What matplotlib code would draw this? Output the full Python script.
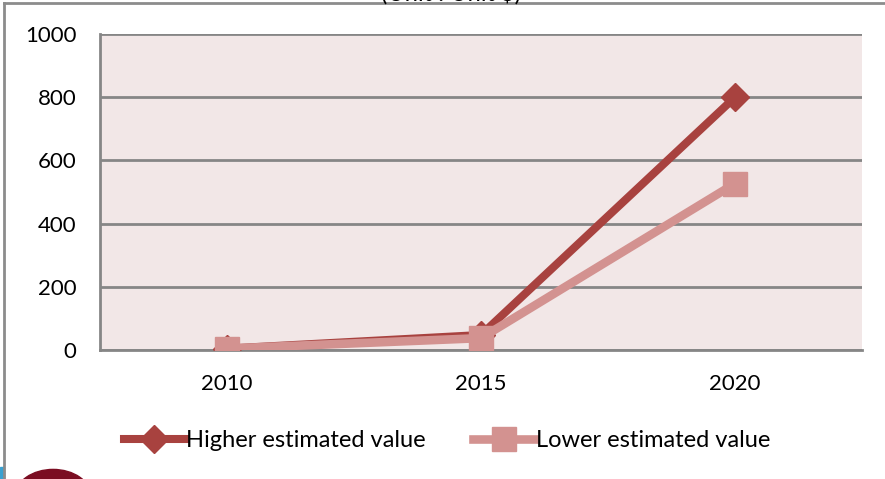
import matplotlib.pyplot as plt
from matplotlib.patches import Ellipse, Rectangle

years = ['2010', '2015', '2020']
higher = [5, 48, 800]
lower = [5, 38, 527]

high_col = '#a8423f'
low_col = '#d39290'

plt.rcParams['font.family'] = ['Lato', 'DejaVu Sans']

fig = plt.figure(figsize=(8.85, 4.79), dpi=100)
ax = fig.add_axes([0.113, 0.269, 0.861, 0.660])
ax.set_facecolor('#f2e7e7')

x = range(len(years))
ax.plot(x, higher, color=high_col, lw=5.8, marker='D', ms=14,
        label='Higher estimated value', zorder=3)
ax.plot(x, lower, color=low_col, lw=6.2, marker='s', ms=17,
        label='Lower estimated value', zorder=4)

ax.set_xlim(-0.5, 2.5)
ax.set_ylim(0, 1000)
ax.set_yticks(range(0, 1001, 200))
ax.set_xticks(list(x))
ax.set_xticklabels(years)
ax.yaxis.grid(True, color='#868686', lw=2)
ax.set_axisbelow(True)
ax.tick_params(length=0, labelsize=16, colors='black')
ax.tick_params(axis='y', pad=17)
ax.tick_params(axis='x', pad=17)
for s in ['top', 'right']:
    ax.spines[s].set_visible(False)
for s in ['left', 'bottom']:
    ax.spines[s].set_color('#868686')
    ax.spines[s].set_linewidth(2)

leg = fig.legend(loc='center', bbox_to_anchor=(0.505, 0.08), ncol=2,
                 frameon=False, fontsize=17, handlelength=2.6,
                 handletextpad=0.05, columnspacing=2.0)

# title of the chart, mostly cut off at the top edge
fig.text(0.51, 1 - 1 / 479, '(Unit : Unit $)', ha='center', va='baseline',
         fontsize=17)

# slide frame and the bits of slide decoration below it
fig.add_artist(plt.Line2D([0.004, 1.0], [0.993, 0.993], color='#8c8c8c',
                          lw=2, transform=fig.transFigure))
fig.add_artist(plt.Line2D([0.004, 0.004], [0.0, 0.993], color='#8c8c8c',
                          lw=2, transform=fig.transFigure))
fig.add_artist(Ellipse((0.06, -0.035), 0.085, 0.11, color='#7b0d22',
                       transform=fig.transFigure))
fig.add_artist(Rectangle((0.0, 0.0), 0.004, 0.025, color='#3aa0d0',
                         transform=fig.transFigure))

fig.savefig('out.png', dpi=100)
